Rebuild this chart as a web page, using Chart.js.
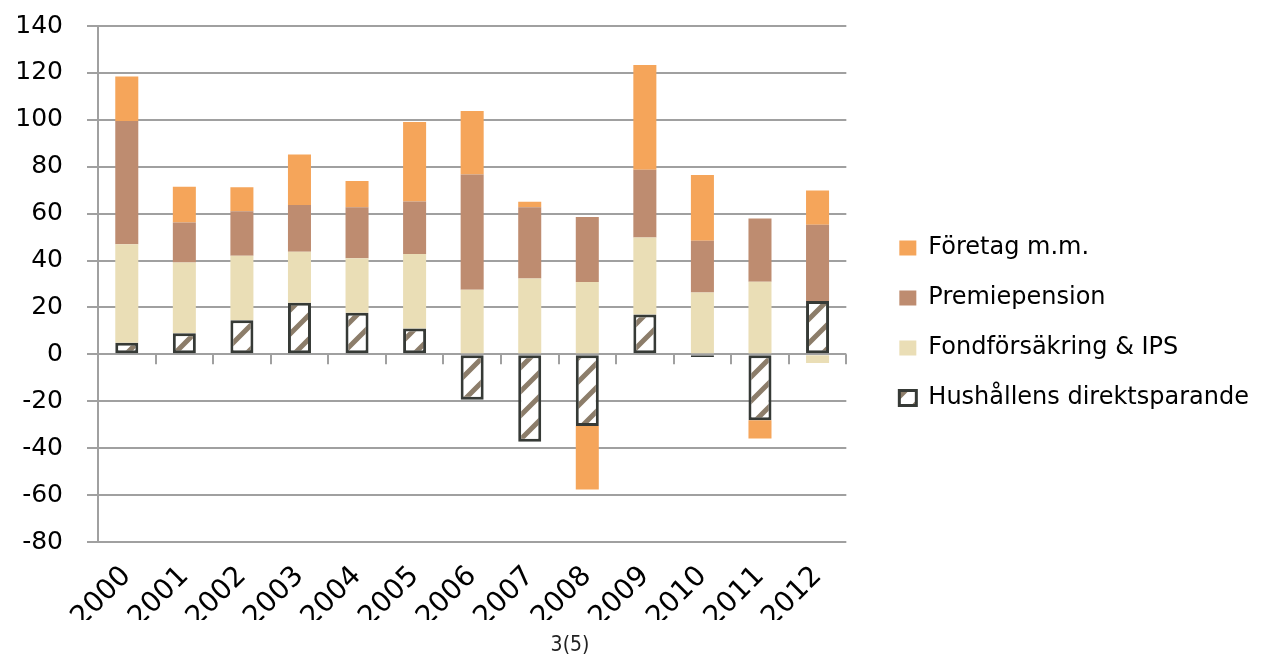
<!DOCTYPE html>
<html lang="sv">
<head>
    <meta charset="UTF-8">
    <title>Sparande</title>
    <script src="https://cdn.jsdelivr.net/npm/chart.js"></script>
    <style>
        body { margin: 0; background: #fff; }
        #grafico { position: relative; width: 1272px; height: 655px; }
        .sida {
            position: absolute; left: 535px; width: 70px; top: 632px;
            text-align: center; color: #222; line-height: 1;
            font: 21px "Liberation Sans Narrow", "DejaVu Sans Condensed", sans-serif;
        }
    </style>
</head>
<body>
    <div id="grafico">
        <canvas id="grafico-info"></canvas>
        <div class="sida">3(5)</div>
    </div>
    <script>
        const ar = ['2000', '2001', '2002', '2003', '2004', '2005', '2006', '2007', '2008', '2009', '2010', '2011', '2012'];
        const hushallen = [5, 9, 14.5, 22, 17.7, 11, -19.3, -37.3, -30.5, 17, -1.1, -28.1, 22.7];
        const fondforsakring = [42, 30.2, 27.5, 21.8, 23.3, 31.8, 27.5, 32.3, 30.8, 32.8, 26.4, 31, -3.7];
        const premiepension = [52.5, 17, 19, 19.9, 21.7, 22.4, 49.2, 30.4, 27.8, 28.9, 22, 26.9, 32.6];
        const foretag = [19, 15.3, 10.2, 21.5, 11.2, 33.9, 27.1, 2.4, -27.1, 44.7, 28.1, -7.8, 14.6];

        const gridFarg = '#a0a0a0';

        const canvas = document.getElementById('grafico-info');
        const ctx = canvas.getContext('2d');

        // randigt mönster för hushållens direktsparande
        function skapaMonster() {
            const s = 24;
            const t = document.createElement('canvas');
            t.width = s; t.height = s;
            const c = t.getContext('2d');
            c.fillStyle = '#ffffff';
            c.fillRect(0, 0, s, s);
            c.strokeStyle = '#8c7d6a';
            c.lineWidth = 5;
            c.beginPath();
            c.moveTo(-6, s + 6); c.lineTo(s + 6, -6);
            c.moveTo(-6, 6); c.lineTo(6, -6);
            c.moveTo(s - 6, s + 6); c.lineTo(s + 6, s - 6);
            c.stroke();
            return ctx.createPattern(t, 'repeat');
        }

        // små streck under nollinjen mellan kategorierna
        const nollStreck = {
            id: 'nollStreck',
            beforeDatasetsDraw(chart) {
                const { ctx, scales: { x, y } } = chart;
                const y0 = y.getPixelForValue(0);
                ctx.save();
                ctx.strokeStyle = gridFarg;
                ctx.lineWidth = 2;
                ctx.beginPath();
                for (let i = 0; i <= ar.length; i++) {
                    const px = Math.round(x.getPixelForValue(i - 0.5));
                    ctx.moveTo(px, y0);
                    ctx.lineTo(px, y0 + 10);
                }
                ctx.stroke();
                ctx.restore();
            }
        };

        new Chart(ctx, {
            type: 'bar',
            data: {
                labels: ar,
                datasets: [
                    {
                        label: 'Hushållens direktsparande',
                        data: hushallen,
                        backgroundColor: skapaMonster(),
                        borderColor: '#363a36',
                        borderWidth: 3,
                        borderSkipped: false
                    },
                    {
                        label: 'Fondförsäkring & IPS',
                        data: fondforsakring,
                        backgroundColor: '#eadeb6',
                        borderWidth: 0
                    },
                    {
                        label: 'Premiepension',
                        data: premiepension,
                        backgroundColor: '#be8c70',
                        borderWidth: 0
                    },
                    {
                        label: 'Företag m.m.',
                        data: foretag,
                        backgroundColor: '#f5a55a',
                        borderWidth: 0
                    }
                ]
            },
            options: {
                responsive: true,
                maintainAspectRatio: false,
                animation: false,
                barPercentage: 0.4,
                categoryPercentage: 1,
                layout: { padding: { top: 26, right: 13, bottom: 35, left: 0 } },
                plugins: {
                    tooltip: { enabled: false },
                    legend: {
                        position: 'right',
                        reverse: true,
                        maxWidth: 420,
                        labels: {
                            boxWidth: 17,
                            boxHeight: 15,
                            padding: 26,
                            color: '#000',
                            font: { family: 'DejaVu Sans', size: 24 }
                        }
                    }
                },
                scales: {
                    x: {
                        stacked: true,
                        grid: { display: false, drawTicks: false },
                        border: { display: false },
                        ticks: {
                            color: '#000',
                            minRotation: 45,
                            maxRotation: 45,
                            padding: 18,
                            font: { family: 'DejaVu Sans', size: 28 }
                        },
                        afterFit(scale) { scale.height = 78; }
                    },
                    y: {
                        stacked: true,
                        min: -80,
                        max: 140,
                        grid: { color: gridFarg, lineWidth: 2, tickLength: 11 },
                        border: { color: gridFarg, width: 2 },
                        ticks: {
                            stepSize: 20,
                            color: '#000',
                            padding: 24,
                            font: { family: 'DejaVu Sans', size: 25 }
                        },
                        afterFit(scale) {
                            scale.width = 98;
                            scale.paddingTop = 15;
                            scale.paddingBottom = 15;
                        }
                    },
                    hoger: {
                        type: 'linear',
                        position: 'right',
                        grid: { display: false },
                        border: { display: false },
                        ticks: { display: false },
                        afterFit(scale) { scale.width = 27; }
                    }
                }
            },
            plugins: [nollStreck]
        });
    </script>
</body>
</html>
